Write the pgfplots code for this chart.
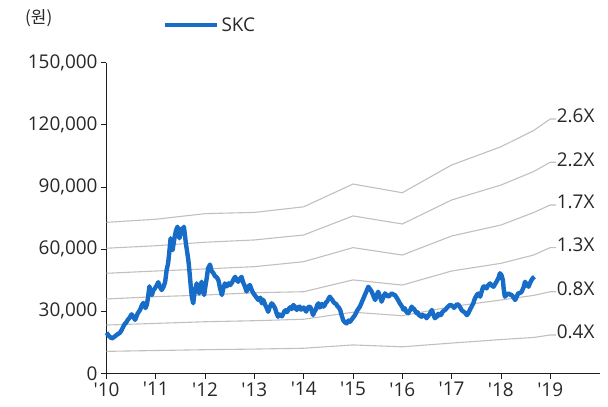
\documentclass[border=0pt]{standalone}
\usepackage{fontspec}
\setmainfont{Open Sans}
\newfontfamily\cjk{Noto Sans CJK KR}
\usepackage{pgfplots}
\pgfplotsset{compat=1.18}
\usepackage{pgfplotstable}
\definecolor{skc}{RGB}{22,108,198}
\definecolor{band}{RGB}{192,192,192}
\definecolor{txt}{RGB}{40,40,40}
\definecolor{axc}{RGB}{30,30,30}

\pgfplotstableread{
year b26 b22 b17 b13 b08 b04
2010 72900 60400 48300 35900 23300 10600
2011 74400 61600 49400 37000 24100 11000
2012 77100 63300 50400 37800 24900 11400
2013 77700 64400 51500 38900 25400 11700
2014 80400 66800 53900 39400 26100 12100
2015 91400 76000 60700 45100 29500 13700
2016 87200 72100 57100 42600 27800 12800
2017 100600 83700 66300 49400 32200 14600
2018 109400 90900 71600 53100 35400 16300
2018.66 117200 97400 77600 57100 37600 17300
2019 122800 101900 81300 60700 39400 18500
2019.12 122800 101900 81300 60700 39400 18500
}\bands

\pgfplotstableread{
year price
2010.00 19600
2010.05 18000
2010.11 16800
2010.18 18000
2010.22 18800
2010.27 19500
2010.31 21000
2010.34 22500
2010.37 23800
2010.40 24500
2010.43 25800
2010.46 26500
2010.49 27800
2010.51 28500
2010.55 27000
2010.58 25800
2010.63 28800
2010.68 30600
2010.72 33000
2010.75 34000
2010.79 31500
2010.82 33200
2010.85 38000
2010.87 42000
2010.90 39000
2010.92 37800
2010.95 40000
2010.98 41000
2011.02 42500
2011.05 44000
2011.09 41500
2011.12 40200
2011.16 42000
2011.19 44200
2011.22 49900
2011.25 53100
2011.28 60000
2011.30 65200
2011.32 61000
2011.34 59500
2011.37 64000
2011.39 66800
2011.41 69000
2011.44 70800
2011.46 68000
2011.48 65200
2011.51 68500
2011.53 70000
2011.55 69000
2011.57 70800
2011.59 67000
2011.61 62800
2011.64 58000
2011.66 54700
2011.68 50000
2011.71 41800
2011.73 37000
2011.76 33800
2011.78 38000
2011.80 40500
2011.83 43400
2011.85 41000
2011.88 38600
2011.90 41000
2011.93 44200
2011.95 42000
2011.98 37800
2012.00 41000
2012.03 45500
2012.06 50700
2012.10 52500
2012.13 49500
2012.17 48300
2012.20 47000
2012.24 46200
2012.27 45000
2012.30 41500
2012.34 37800
2012.37 41000
2012.40 43400
2012.44 42000
2012.48 43500
2012.51 42600
2012.55 44000
2012.58 45500
2012.61 46600
2012.64 45000
2012.67 44200
2012.70 45500
2012.74 46600
2012.77 44000
2012.81 41800
2012.84 39500
2012.88 42000
2012.91 42600
2012.95 40000
2012.98 38600
2013.03 37000
2013.08 35400
2013.12 36500
2013.15 33800
2013.18 35500
2013.22 33000
2013.25 31500
2013.28 29700
2013.31 32000
2013.35 33800
2013.38 33000
2013.42 31400
2013.45 29000
2013.48 27300
2013.50 28500
2013.53 28000
2013.56 27500
2013.59 29000
2013.61 30000
2013.64 30500
2013.66 29500
2013.69 30600
2013.71 31500
2013.74 32000
2013.76 31000
2013.79 33000
2013.81 32500
2013.83 31500
2013.86 30600
2013.88 31800
2013.92 32200
2013.94 30800
2013.97 31000
2014.00 31800
2014.03 30600
2014.05 29800
2014.08 31500
2014.10 32000
2014.13 32200
2014.16 30500
2014.19 28100
2014.21 29500
2014.23 30200
2014.25 31000
2014.27 32800
2014.30 33800
2014.33 31800
2014.35 32500
2014.37 33500
2014.40 32200
2014.43 33000
2014.45 34200
2014.47 34500
2014.50 35800
2014.53 37000
2014.55 36200
2014.58 35500
2014.60 34500
2014.63 33800
2014.66 33500
2014.68 32500
2014.71 31800
2014.74 30600
2014.77 28000
2014.80 25700
2014.84 24500
2014.87 24100
2014.91 25500
2014.94 24900
2014.99 26500
2015.04 28100
2015.09 30500
2015.14 32200
2015.19 35000
2015.24 37800
2015.28 40000
2015.31 41800
2015.35 40500
2015.38 39400
2015.42 37000
2015.45 35400
2015.48 37500
2015.51 39400
2015.55 37000
2015.58 34600
2015.61 36500
2015.65 38600
2015.69 37500
2015.72 37000
2015.76 38000
2015.79 38600
2015.82 38000
2015.85 37800
2015.90 36000
2015.95 33800
2016.00 32000
2016.02 30800
2016.05 31400
2016.07 30200
2016.09 29500
2016.12 29000
2016.14 30000
2016.16 30500
2016.19 32200
2016.21 31500
2016.24 31000
2016.26 30200
2016.29 29000
2016.31 29500
2016.34 28000
2016.36 27800
2016.39 27300
2016.41 28300
2016.44 27500
2016.47 27800
2016.49 26600
2016.52 27500
2016.55 28500
2016.58 29800
2016.60 30600
2016.63 28500
2016.66 26600
2016.68 27000
2016.71 27500
2016.73 28800
2016.76 28100
2016.79 28200
2016.81 29500
2016.84 30200
2016.87 30600
2016.89 31200
2016.92 32000
2016.94 32500
2016.97 33000
2017.00 32800
2017.03 32200
2017.05 31600
2017.08 32500
2017.11 33400
2017.14 33000
2017.17 32000
2017.20 30600
2017.23 30000
2017.26 29500
2017.28 29000
2017.31 28100
2017.34 29000
2017.37 30600
2017.40 32000
2017.44 33800
2017.47 36000
2017.51 37800
2017.54 38500
2017.58 37000
2017.61 39500
2017.64 41800
2017.67 42000
2017.71 41000
2017.74 42500
2017.78 43400
2017.81 42500
2017.85 41800
2017.88 43000
2017.91 44200
2017.95 46000
2017.98 48300
2018.01 47500
2018.04 45000
2018.06 40000
2018.08 37000
2018.12 38000
2018.15 38600
2018.19 38000
2018.22 37800
2018.26 36500
2018.29 35400
2018.32 37000
2018.35 38600
2018.39 38800
2018.42 39400
2018.46 41500
2018.49 44200
2018.52 43000
2018.56 41800
2018.59 43500
2018.62 45000
2018.65 46000
2018.68 46600
}\price

\begin{document}
\begin{tikzpicture}
\useasboundingbox (-106.5bp,-33.7bp) rectangle (501.5bp,373.3bp);
\begin{axis}[
  at={(0,0)}, anchor=south west, scale only axis,
  width=493bp, height=310.6bp,
  xmin=2010, xmax=2020, ymin=0, ymax=150000,
  axis x line*=bottom, axis y line*=left,
  axis line style={axc, line width=0.8bp},
  tick style={axc, line width=0.8bp},
  tick align=outside, major tick length=5.5bp,
  xtick={2010,2011,2012,2013,2014,2015,2016,2017,2018,2019},
  xticklabels={\textquotesingle10,\textquotesingle11,\textquotesingle12,\textquotesingle13,\textquotesingle14,\textquotesingle15,\textquotesingle16,\textquotesingle17,\textquotesingle18,\textquotesingle19},
  ytick={0,30000,60000,90000,120000,150000},
  scaled y ticks=false,
  yticklabel style={/pgf/number format/.cd, fixed, 1000 sep={,}, assume math mode=true},
  tick label style={font=\fontsize{19}{19}\selectfont, text=txt},
  legend style={draw=none, fill=none, at={(0.113,1.1204)}, anchor=west,
    font=\fontsize{19}{19}\selectfont, text=txt, inner sep=0pt},
  legend image code/.code={\draw[#1] (0bp,0bp) -- (52.7bp,0bp);},
  clip=false,
]
\addplot[band, line width=1.1bp, forget plot] table[x=year, y=b26] {\bands};
\addplot[band, line width=1.1bp, forget plot] table[x=year, y=b22] {\bands};
\addplot[band, line width=1.1bp, forget plot] table[x=year, y=b17] {\bands};
\addplot[band, line width=1.1bp, forget plot] table[x=year, y=b13] {\bands};
\addplot[band, line width=1.1bp, forget plot] table[x=year, y=b08] {\bands};
\addplot[band, line width=1.1bp, forget plot] table[x=year, y=b04] {\bands};
\addplot[skc, line width=4.4bp, line join=round] table[x=year, y=price] {\price};
\addlegendentry{SKC}
\begin{scope}[every node/.style={anchor=west, inner sep=0pt, font=\fontsize{19}{19}\selectfont, text=txt, yshift=3bp}]
\node at (axis cs:2019.13,122800) {2.6X};
\node at (axis cs:2019.13,101900) {2.2X};
\node at (axis cs:2019.13,81300) {1.7X};
\node at (axis cs:2019.13,60700) {1.3X};
\node at (axis cs:2019.13,39400) {0.8X};
\node at (axis cs:2019.13,18500) {0.4X};
\end{scope}
\end{axis}
\node[anchor=west, inner sep=0pt, font=\cjk\fontsize{17}{17}\selectfont, text=txt] at (-81.5bp,355.5bp) {(원)};
\end{tikzpicture}
\end{document}
